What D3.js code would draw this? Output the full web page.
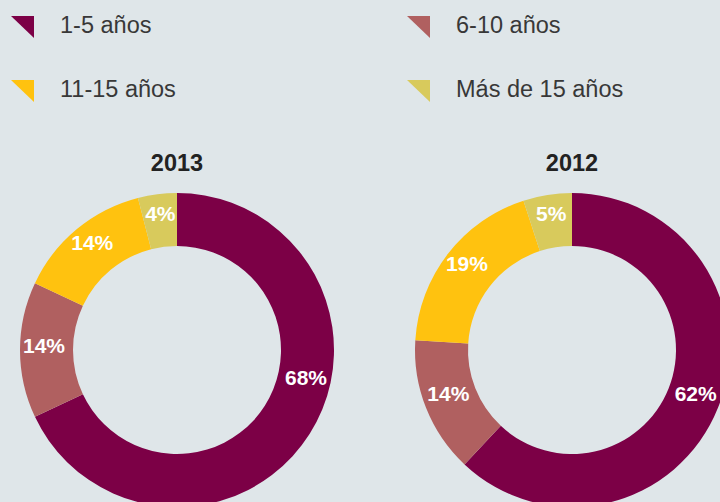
<!DOCTYPE html>
<html lang="es">
<head>
<meta charset="UTF-8" />
<title>Antigüedad</title>
<style>
  html, body { margin: 0; padding: 0; background: #dfe6e9; }
  svg { display: block; font-family: "Liberation Sans", Arial, sans-serif; }
  .legend text { font-size: 23.5px; fill: #383838; }
  .title { font-size: 23.5px; font-weight: bold; fill: #222; }
  .pct { font-size: 21px; font-weight: bold; fill: #fff; }
</style>
</head>
<body>
<svg id="chart" width="720" height="502"></svg>
<script src="https://cdn.jsdelivr.net/npm/d3@7"></script>
<script>
// categories and values
const categories = ["1-5 años", "6-10 años", "11-15 años", "Más de 15 años"];
const colors = ["#7c0046", "#b06060", "#ffc20f", "#d8ca5c"];
const years = ["2013", "2012"];
const values2013 = [68, 14, 14, 4];
const values2012 = [62, 14, 19, 5];
const seriesValues = [values2013, values2012];

const svg = d3.select("#chart");
const color = d3.scaleOrdinal().domain(categories).range(colors);

// legend, two columns
const legend = svg.append("g").attr("class", "legend");
categories.forEach((c, i) => {
  const col = i % 2, row = Math.floor(i / 2);
  const g = legend.append("g")
    .attr("transform", `translate(${11 + col * 396},${16 + row * 64})`);
  g.append("path")
    .attr("d", "M0,0 L23,0 L23,22 Z")
    .attr("fill", color(c));
  g.append("text")
    .attr("x", 49)
    .attr("y", 17)
    .text(c);
});

// donuts
const outerR = 157, innerR = 104, labelR = 133;
const pie = d3.pie().sort(null).value(d => d);
const arc = d3.arc().innerRadius(innerR).outerRadius(outerR);
const labelArc = d3.arc().innerRadius(labelR).outerRadius(labelR);
const cx = d3.scalePoint().domain(years).range([177, 572]);

years.forEach((yr, k) => {
  const g = svg.append("g")
    .attr("transform", `translate(${cx(yr)},350)`);

  svg.append("text")
    .attr("class", "title")
    .attr("x", cx(yr))
    .attr("y", 171)
    .attr("text-anchor", "middle")
    .text(yr);

  const arcs = pie(seriesValues[k]);

  g.selectAll("path")
    .data(arcs)
    .enter().append("path")
      .attr("d", arc)
      .attr("fill", (d, i) => color(categories[i]));

  g.selectAll("text")
    .data(arcs)
    .enter().append("text")
      .attr("class", "pct")
      .attr("text-anchor", "middle")
      .attr("dy", "0.12em")
      .attr("transform", (d, i) => {
        // the big 2013 slice label sits higher in the original
        let a = (d.startAngle + d.endAngle) / 2;
        if (yr === "2013" && i === 0) a -= 0.32;
        const p = labelArc.centroid({startAngle: a, endAngle: a});
        return `translate(${p[0]},${p[1]})`;
      })
      .text(d => d.data + "%");
});
</script>
</body>
</html>
